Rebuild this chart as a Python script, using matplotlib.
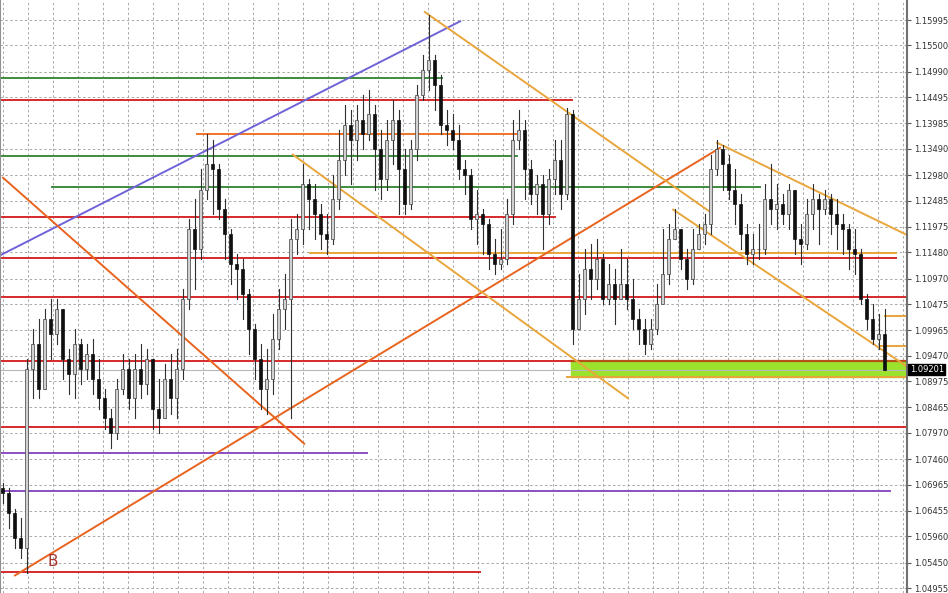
import numpy as np
import matplotlib
matplotlib.use("Agg")
import matplotlib.pyplot as plt

# candle data (high / low / close), opens follow the previous close
first_open = 1.0690
closes = [1.0680, 1.0641, 1.0592, 1.0573, 1.0922, 1.0970, 1.0883, 1.1018, 1.0989, 1.1038,
          1.0941, 1.0912, 1.0970, 1.0922, 1.0951, 1.0902, 1.0864, 1.0825, 1.0796, 1.0883,
          1.0922, 1.0864, 1.0922, 1.0893, 1.0941, 1.0844, 1.0825, 1.0902, 1.0864, 1.0922,
          1.1057, 1.1193, 1.1154, 1.1270, 1.1319, 1.1309, 1.1232, 1.1183, 1.1125, 1.1115,
          1.1067, 1.0999, 1.0941, 1.0883, 1.0902, 1.0980, 1.1038, 1.1057, 1.1173, 1.1193,
          1.1280, 1.1251, 1.1222, 1.1183, 1.1173, 1.1251, 1.1328, 1.1396, 1.1367, 1.1406,
          1.1377, 1.1416, 1.1348, 1.1290, 1.1367, 1.1406, 1.1309, 1.1241, 1.1348, 1.1454,
          1.1503, 1.1522, 1.1474, 1.1396, 1.1386, 1.1367, 1.1309, 1.1299, 1.1212, 1.1222,
          1.1203, 1.1144, 1.1125, 1.1135, 1.1222, 1.1367, 1.1386, 1.1309, 1.1261, 1.1280,
          1.1222, 1.1290, 1.1328, 1.1261, 1.1416, 1.0999, 1.1057, 1.1115, 1.1096, 1.1135,
          1.1057, 1.1086, 1.1057, 1.1086, 1.1057, 1.1018, 1.0999, 1.0970, 1.0999, 1.1047,
          1.1106, 1.1173, 1.1193, 1.1135, 1.1096, 1.1154, 1.1183, 1.1203, 1.1309, 1.1348,
          1.1319, 1.1270, 1.1241, 1.1183, 1.1144, 1.1154, 1.1154, 1.1251, 1.1232, 1.1241,
          1.1222, 1.1270, 1.1173, 1.1164, 1.1222, 1.1251, 1.1232, 1.1251, 1.1222, 1.1203,
          1.1193, 1.1154, 1.1144, 1.1057, 1.1018, 1.0980, 1.0989, 1.0920]
highs = [1.0699, 1.0689, 1.0650, 1.0631, 1.0941, 1.0999, 1.1018, 1.1038, 1.1057, 1.1057,
         1.1038, 1.0960, 1.0999, 1.0980, 1.0970, 1.0980, 1.0941, 1.0883, 1.0844, 1.0902,
         1.0951, 1.0941, 1.0951, 1.0970, 1.0960, 1.0941, 1.0902, 1.0931, 1.0951, 1.0960,
         1.1077, 1.1212, 1.1251, 1.1309, 1.1377, 1.1367, 1.1319, 1.1251, 1.1193, 1.1144,
         1.1135, 1.1077, 1.1009, 1.0970, 1.0960, 1.1028, 1.1077, 1.1106, 1.1212, 1.1222,
         1.1319, 1.1290, 1.1280, 1.1241, 1.1222, 1.1299, 1.1386, 1.1435, 1.1425, 1.1435,
         1.1454, 1.1464, 1.1435, 1.1386, 1.1406, 1.1445, 1.1425, 1.1348, 1.1367, 1.1474,
         1.1532, 1.1609, 1.1532, 1.1493, 1.1425, 1.1416, 1.1396, 1.1328, 1.1309, 1.1270,
         1.1232, 1.1212, 1.1173, 1.1193, 1.1251, 1.1406, 1.1425, 1.1406, 1.1328, 1.1299,
         1.1299, 1.1309, 1.1367, 1.1367, 1.1429, 1.1425, 1.1106, 1.1154, 1.1164, 1.1173,
         1.1144, 1.1125, 1.1115, 1.1154, 1.1135, 1.1096, 1.1038, 1.1018, 1.1018, 1.1086,
         1.1193, 1.1203, 1.1232, 1.1193, 1.1154, 1.1193, 1.1203, 1.1222, 1.1338, 1.1367,
         1.1357, 1.1338, 1.1309, 1.1261, 1.1203, 1.1183, 1.1203, 1.1280, 1.1319, 1.1280,
         1.1261, 1.1280, 1.1270, 1.1203, 1.1251, 1.1280, 1.1261, 1.1270, 1.1261, 1.1251,
         1.1222, 1.1203, 1.1193, 1.1154, 1.1067, 1.1047, 1.1028, 1.1038]
lows = [1.0660, 1.0612, 1.0573, 1.0554, 1.0524, 1.0864, 1.0864, 1.0883, 1.0941, 1.0970,
        1.0902, 1.0873, 1.0864, 1.0893, 1.0902, 1.0873, 1.0844, 1.0805, 1.0767, 1.0786,
        1.0873, 1.0844, 1.0825, 1.0864, 1.0873, 1.0805, 1.0796, 1.0825, 1.0834, 1.0825,
        1.0902, 1.1038, 1.1077, 1.1135, 1.1251, 1.1222, 1.1212, 1.1135, 1.1086, 1.1057,
        1.1018, 1.0951, 1.0902, 1.0844, 1.0834, 1.0873, 1.0960, 1.0999, 1.0825, 1.1144,
        1.1164, 1.1193, 1.1173, 1.1154, 1.1144, 1.1164, 1.1232, 1.1299, 1.1280, 1.1328,
        1.1348, 1.1367, 1.1270, 1.1251, 1.1270, 1.1319, 1.1222, 1.1222, 1.1232, 1.1328,
        1.1445, 1.1464, 1.1425, 1.1377, 1.1357, 1.1348, 1.1290, 1.1261, 1.1193, 1.1164,
        1.1144, 1.1115, 1.1106, 1.1115, 1.1125, 1.1203, 1.1348, 1.1251, 1.1241, 1.1222,
        1.1154, 1.1203, 1.1261, 1.1232, 1.1251, 1.0970, 1.0999, 1.1028, 1.1057, 1.1077,
        1.1047, 1.1047, 1.1009, 1.1057, 1.1038, 1.0999, 1.0970, 1.0951, 1.0960, 1.0989,
        1.1057, 1.1086, 1.1173, 1.1115, 1.1077, 1.1086, 1.1154, 1.1164, 1.1183, 1.1299,
        1.1270, 1.1251, 1.1203, 1.1154, 1.1125, 1.1125, 1.1135, 1.1144, 1.1203, 1.1193,
        1.1203, 1.1193, 1.1144, 1.1125, 1.1154, 1.1193, 1.1164, 1.1222, 1.1183, 1.1154,
        1.1144, 1.1115, 1.1106, 1.1047, 1.0999, 1.0970, 1.0960, 1.0919]

# price scale shown on the right
tick_prices = [1.15995, 1.15500, 1.14990, 1.14495, 1.13985, 1.13490, 1.12980, 1.12485,
               1.11975, 1.11480, 1.10970, 1.10475, 1.09965, 1.09470, 1.08975, 1.08465,
               1.07970, 1.07460, 1.06965, 1.06455, 1.05960, 1.05450, 1.04955]
last_price = 1.09201

# horizontal levels: price, first bar, last bar, colour
levels = [
    (1.1487, -0.5, 73.2, "#3d8b3d"),
    (1.1445, -0.5, 94.8, "#d62a2a"),
    (1.1377, 32.3, 85.7, "#f07228"),
    (1.1336, -0.5, 85.7, "#3d8b3d"),
    (1.1274, 8.2, 126.2, "#3d8b3d"),
    (1.1216, -0.5, 92.0, "#d62a2a"),
    (1.1136, -0.5, 148.8, "#d62a2a"),
    (1.1146, 51.2, 148.8, "#e8a63c"),
    (1.1061, -0.5, 151.0, "#d62a2a"),
    (1.0937, -0.5, 94.5, "#d62a2a"),
    (1.0809, -0.5, 151.0, "#d62a2a"),
    (1.0757, -0.5, 60.7, "#8a4fc4"),
    (1.0684, -0.5, 147.8, "#8a4fc4"),
    (1.0527, -0.5, 79.5, "#d62a2a"),
    (1.1024, 147.0, 151.0, "#e8a63c"),
    (1.0966, 146.2, 150.5, "#e8a63c"),
]

# trend lines: (bar, price) -> (bar, price), colour
trends = [
    ((-0.5, 1.1142), (76.2, 1.1597), "#6f63d8"),
    ((0.0, 1.1293), (50.2, 1.0776), "#e8641e"),
    ((2.0, 1.0520), (119.5, 1.1351), "#e8641e"),
    ((70.3, 1.1615), (117.8, 1.1227), "#e8a63c"),
    ((48.3, 1.1338), (104.2, 1.0864), "#e8a63c"),
    ((111.7, 1.1231), (150.8, 1.0925), "#e8a63c"),
    ((119.0, 1.1361), (150.8, 1.1181), "#e8a63c"),
]

zone_low, zone_high = 1.0906, 1.0937
zone_start = 94.7

label_font = ["Liberation Sans Narrow", "DejaVu Sans"]
y_lo, y_hi = 1.04858, 1.16384

fig = plt.figure(figsize=(9.48, 5.93), dpi=100)
ax = fig.add_axes([0.0, 0.0, 907 / 948, 1.0])
ax.set_xlim(-0.5, 150.67)
ax.set_ylim(y_lo, y_hi)

# grid
for gx in np.arange(0, 151, 25 / 6):
    ax.axvline(gx, color="#a8a8a8", lw=0.7, ls=(0, (2.5, 2.5)), zorder=0)
for p in tick_prices:
    ax.axhline(p, color="#a8a8a8", lw=0.7, ls=(0, (2.5, 2.5)), zorder=0)

# support zone
ax.fill_between([zone_start, 151], zone_low, zone_high, color="#9be22d", zorder=1)
ax.plot([zone_start, 151], [zone_high, zone_high], color="#b4501a", lw=1.6, zorder=2)
ax.plot([94.0, 151], [zone_low, zone_low], color="#e8a63c", lw=1.4, zorder=2)
ax.axhline(last_price, color="#b8b8b8", lw=0.8, zorder=1)

for price, x0, x1, col in levels:
    ax.plot([x0, x1], [price, price], color=col, lw=1.4, zorder=2)

for (x0, y0), (x1, y1), col in trends:
    ax.plot([x0, x1], [y0, y1], color=col, lw=1.4, zorder=2)

# candles
opens = [first_open] + closes[:-1]
for i in range(len(closes)):
    o, h, l, c = opens[i], highs[i], lows[i], closes[i]
    ax.plot([i, i], [l, h], color="#303030", lw=0.8, zorder=3)
    bottom = min(o, c)
    height = max(abs(c - o), 0.00012)
    if c >= o:
        ax.bar(i, height, bottom=bottom, width=0.5, color="#d0d0d0",
               edgecolor="#404040", linewidth=0.5, zorder=4)
    else:
        ax.bar(i, height, bottom=bottom, width=0.5, color="#101010",
               edgecolor="#101010", linewidth=0.5, zorder=4)

ax.text(8.3, 1.0547, "B", color="#a8342a", fontsize=11, ha="center", va="center")

# axis styling
ax.yaxis.tick_right()
ax.set_yticks(tick_prices)
ax.set_yticklabels(["%.5f" % p for p in tick_prices], fontsize=6, color="#333333",
                   family=label_font)
ax.tick_params(axis="y", length=3, width=0.8, color="#555555", pad=2)
ax.set_xticks([])
for side in ["top", "bottom"]:
    ax.spines[side].set_visible(False)
ax.spines["right"].set_color("#707070")
ax.spines["right"].set_linewidth(1.5)
ax.spines["left"].set_color("#909090")
ax.spines["left"].set_linewidth(1.5)

ax.text(1.003, (last_price - y_lo) / (y_hi - y_lo), "%.5f" % last_price,
        transform=ax.transAxes, fontsize=6, color="white", va="center", ha="left",
        family=label_font,
        bbox=dict(boxstyle="square,pad=0.15", facecolor="black", edgecolor="black"))

fig.savefig("out.png", dpi=100)
